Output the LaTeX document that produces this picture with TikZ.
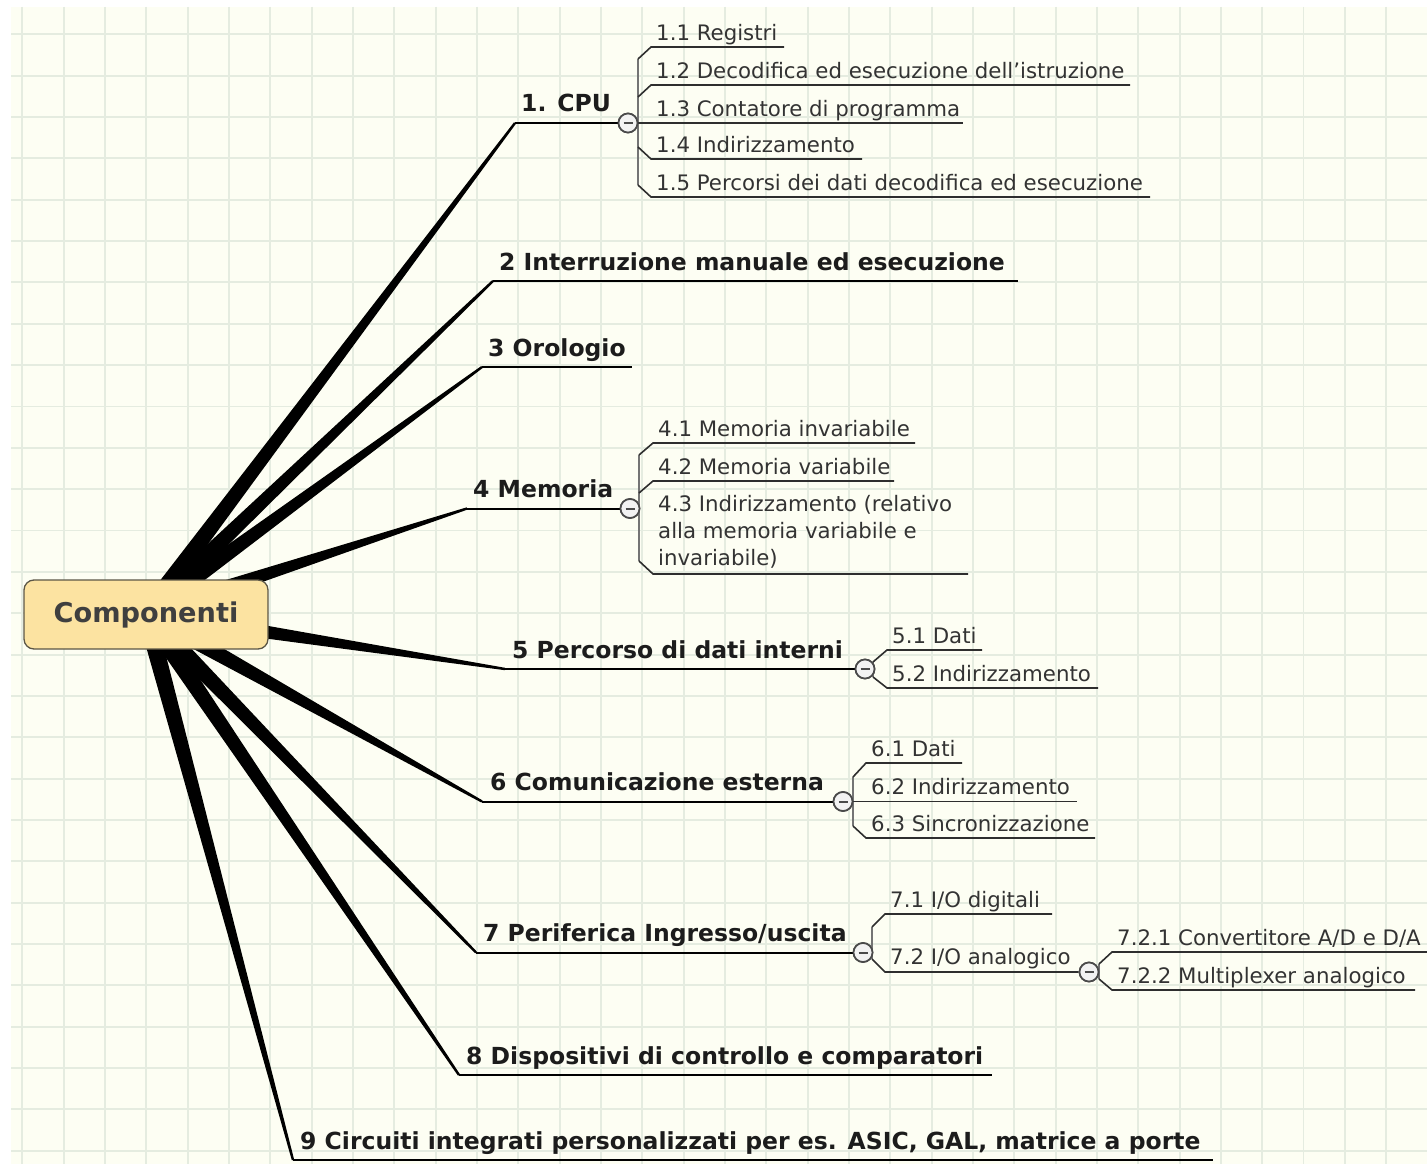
\documentclass[tikz,border=0pt]{standalone}
\usepackage{fontspec}
\setmainfont{DejaVu Sans}
\usetikzlibrary{calc}

\definecolor{paper}{HTML}{FDFEF3}
\definecolor{gridc}{HTML}{E5ECE0}
\definecolor{rootfill}{HTML}{FCE3A1}
\definecolor{rootdraw}{HTML}{5B5646}
\definecolor{roottext}{HTML}{3F3F3F}
\definecolor{maintext}{HTML}{1C1C1C}
\definecolor{subtext}{HTML}{333333}
\definecolor{subdraw}{HTML}{2E2E2E}
\definecolor{trunkc}{HTML}{747474}
\definecolor{togglefill}{HTML}{F2F2F2}
\definecolor{toggledraw}{HTML}{4A4A4A}

\pgfdeclarelayer{grid}
\pgfdeclarelayer{links}
\pgfsetlayers{grid,links,main}

% tapered branch from the root centre to the start of a branch underline
\newcommand{\taper}[2]{%
  \fill[black] ($(#1)!9pt!90:(#2)$) -- ($(#2)!1.2pt!-90:(#1)$)
    -- ($(#2)!1.2pt!90:(#1)$) -- ($(#1)!9pt!-90:(#2)$) -- cycle;}

\tikzset{
  gridline/.style={gridc, line width=1.9pt},
  rootbox/.style={rounded corners=10pt, draw=rootdraw, line width=1.3pt,
    fill=rootfill, minimum width=244pt, minimum height=69pt,
    text=roottext, font=\bfseries\fontsize{27.2}{33}\selectfont},
  mainlabel/.style={anchor=base west, inner sep=0pt, text=maintext,
    font=\bfseries\fontsize{23.5}{28}\selectfont},
  sublabel/.style={anchor=base west, inner sep=0pt, text=subtext,
    font=\fontsize{21.3}{27}\selectfont},
  mainline/.style={black, line width=2pt},
  subline/.style={subdraw, line width=1.6pt},
  trunk/.style={trunkc, line width=2.2pt},
  toggle/.style={circle, draw=toggledraw, line width=1.7pt, fill=togglefill,
    minimum size=19pt, inner sep=0pt},
  minus/.style={toggledraw, line width=2pt},
}

\begin{document}
\begin{tikzpicture}[x=1pt, y=-1pt]
\useasboundingbox (0,0) rectangle (1427,1164);
\clip (0,0) rectangle (1427,1164);

% squared paper
\begin{pgfonlayer}{grid}
  \fill[white] (0,0) rectangle (1427,1164);
  \fill[paper] (11,7) rectangle (1427,1164);
  \foreach \i in {0,...,33}
    \draw[gridline] ({22.3+41.33*\i},7) -- ({22.3+41.33*\i},1164);
  \foreach \j in {0,...,27}
    \draw[gridline] (11,{34.3+41.35*\j}) -- (1427,{34.3+41.35*\j});
\end{pgfonlayer}

% branch anchor points
\coordinate (rc) at (146,613.5);
\coordinate (m1) at (515,123);
\coordinate (m2) at (493,281);
\coordinate (m3) at (482,367);
\coordinate (m4) at (467,508.5);
\coordinate (m5) at (505,669);
\coordinate (m6) at (482,801.5);
\coordinate (m7) at (476,952.5);
\coordinate (m8) at (459,1075);
\coordinate (m9) at (293,1160);
\coordinate (e2) at (1018,281);
\coordinate (e3) at (632,367);
\coordinate (e8) at (992,1075);
\coordinate (e9) at (1213,1160);

\begin{pgfonlayer}{links}
  \foreach \m in {m1,m2,m3,m4,m5,m6,m7,m8,m9} {\taper{rc}{\m}}
\end{pgfonlayer}

% central topic
\node[rootbox] (root) at (146,614.5) {Componenti};

% main topics
\node[mainlabel] (n1) at (521,111.5) {1. CPU};
\node[mainlabel] (n2) at (499,270) {2 Interruzione manuale ed esecuzione};
\node[mainlabel] (n3) at (488,356) {3 Orologio};
\node[mainlabel] (n4) at (473,497.5) {4 Memoria};
\node[mainlabel] (n5) at (512,658) {5 Percorso di dati interni};
\node[mainlabel] (n6) at (490,790.5) {6 Comunicazione esterna};
\node[mainlabel] (n7) at (483,941.5) {7 Periferica Ingresso/uscita};
\node[mainlabel] (n8) at (466,1064) {8 Dispositivi di controllo e comparatori};
\node[mainlabel] (n9) at (300,1149) {9 Circuiti integrati personalizzati per es. ASIC, GAL, matrice a porte};

% collapse toggles
\node[toggle] (t1) at (628,123) {};
\node[toggle] (t4) at (630,508.5) {};
\node[toggle] (t5) at (865,669) {};
\node[toggle] (t6) at (843,801.5) {};
\node[toggle] (t7) at (863,952.5) {};
\node[toggle] (t72) at (1089,972) {};

% main underlines
\draw[mainline] (m1) -- (t1);
\draw[mainline] (m2) -- (e2);
\draw[mainline] (m3) -- (e3);
\draw[mainline] (m4) -- (t4);
\draw[mainline] (m5) -- (t5);
\draw[mainline] (m6) -- (t6);
\draw[mainline] (m7) -- (t7);
\draw[mainline] (m8) -- (e8);
\draw[mainline] (m9) -- (e9);

% 1. CPU
\coordinate (u11) at (784,47);
\coordinate (u12) at (1130,85);
\coordinate (u13) at (963,123);
\coordinate (u14) at (862,159);
\coordinate (u15) at (1150,197);
\draw[trunk] (638,59) -- (638,185);
\draw[subline] (t1.east) -- (u13);
\draw[subline] (638,59) -- (651,47) -- (u11);
\draw[subline] (638,97) -- (651,85) -- (u12);
\draw[subline] (638,147) -- (651,159) -- (u14);
\draw[subline] (638,185) -- (651,197) -- (u15);
\node[sublabel] (s11) at (656,40.5) {1.1 Registri};
\node[sublabel] (s12) at (656,78.5) {1.2 Decodifica ed esecuzione dell’istruzione};
\node[sublabel] (s13) at (656,116) {1.3 Contatore di programma};
\node[sublabel] (s14) at (656,152.5) {1.4 Indirizzamento};
\node[sublabel] (s15) at (656,190.5) {1.5 Percorsi dei dati decodifica ed esecuzione};

% 4 Memoria
\coordinate (u41) at (915,443);
\coordinate (u42) at (894,481);
\coordinate (u43) at (968,574);
\draw[trunk] (639,455) -- (639,561);
\draw[subline] (639,455) -- (653,443) -- (u41);
\draw[subline] (639,493) -- (653,481) -- (u42);
\draw[subline] (639,561) -- (653,574) -- (u43);
\node[sublabel] (s41) at (658,436.5) {4.1 Memoria invariabile};
\node[sublabel] (s42) at (658,474.5) {4.2 Memoria variabile};
% the base of a multi-line node is the baseline of its last line
\node[sublabel, align=left] (s43) at (658,565)
  {4.3 Indirizzamento (relativo\\alla memoria variabile e\\invariabile)};

% 5 Percorso di dati interni
\coordinate (u51) at (982,650);
\coordinate (u52) at (1098,688);
\draw[trunk] (873,662) -- (873,677);
\draw[subline] (873,662) -- (887,650) -- (u51);
\draw[subline] (873,677) -- (887,688) -- (u52);
\node[sublabel] (s51) at (892,643.5) {5.1 Dati};
\node[sublabel] (s52) at (892,681.5) {5.2 Indirizzamento};

% 6 Comunicazione esterna
\coordinate (u61) at (962,763);
\coordinate (u62) at (1077,801.5);
\coordinate (u63) at (1095,838);
\draw[trunk] (853,777) -- (853,826);
\draw[subline] (853,777) -- (866,763) -- (u61);
\draw[subline] (t6.east) -- (u62);
\draw[subline] (853,826) -- (866,838) -- (u63);
\node[sublabel] (s61) at (871,756.5) {6.1 Dati};
\node[sublabel] (s62) at (871,794.5) {6.2 Indirizzamento};
\node[sublabel] (s63) at (871,831.5) {6.3 Sincronizzazione};

% 7 Periferica Ingresso/uscita
\coordinate (u71) at (1052,914);
\draw[trunk] (872,927) -- (872,959);
\draw[subline] (872,927) -- (885,914) -- (u71);
\draw[subline] (872,959) -- (885,972) -- (t72);
\node[sublabel] (s71) at (890,907.5) {7.1 I/O digitali};
\node[sublabel] (s72) at (890,964.5) {7.2 I/O analogico};

% 7.2 I/O analogico
\coordinate (u721) at (1440,952);
\coordinate (u722) at (1415,990);
\draw[trunk] (1099,964) -- (1099,979);
\draw[subline] (1099,964) -- (1112,952) -- (u721);
\draw[subline] (1099,979) -- (1112,990) -- (u722);
\node[sublabel] (s721) at (1117,945.5) {7.2.1 Convertitore A/D e D/A};
\node[sublabel] (s722) at (1117,983.5) {7.2.2 Multiplexer analogico};

% redraw toggles above the sub-lines, with their minus signs
\foreach \t in {t1,t4,t5,t6,t7,t72} {
  \node[toggle] at (\t) {};
  \draw[minus] ([xshift=-4.5pt]\t.center) -- ([xshift=4.5pt]\t.center);
}
\end{tikzpicture}
\end{document}
